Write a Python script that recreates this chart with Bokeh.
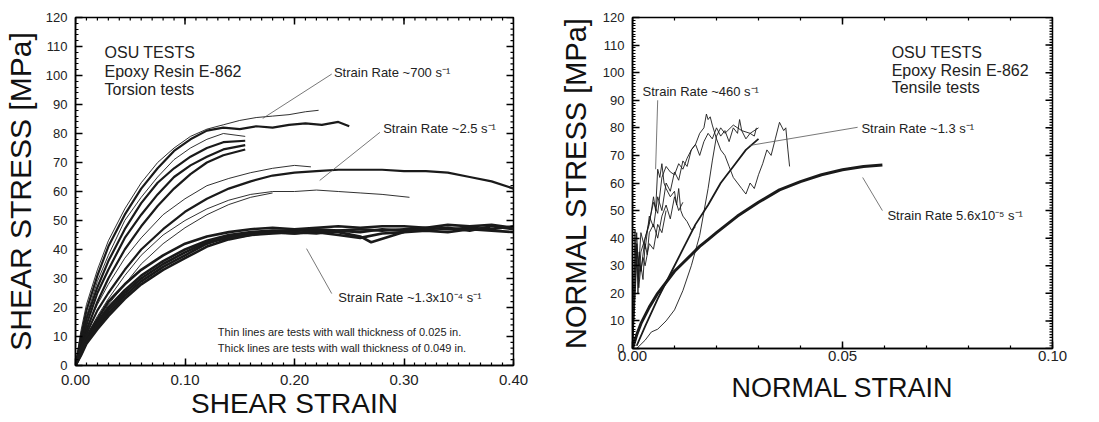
import numpy as np
from bokeh.plotting import figure
from bokeh.layouts import row
from bokeh.models import FixedTicker
from bokeh.core.properties import value
from bokeh.embed import file_html
from bokeh.resources import INLINE

FONT = "Liberation Sans"

# ---------------- Left panel: torsion tests (shear) ----------------
# ~700 1/s group
s700_a_x = [0, 0.005, 0.01, 0.02, 0.03, 0.045, 0.06, 0.075, 0.09, 0.105, 0.12, 0.135, 0.15, 0.165, 0.18, 0.195, 0.21, 0.222]
s700_a_y = [0, 12, 21, 33, 43, 54, 63, 70, 75, 79, 81.5, 83, 84.5, 85.5, 86, 86.5, 87.5, 88]
s700_b_x = [0, 0.005, 0.01, 0.02, 0.03, 0.045, 0.06, 0.075, 0.09, 0.105, 0.12, 0.135, 0.15, 0.165, 0.18, 0.195, 0.21, 0.225, 0.24, 0.25]
s700_b_y = [0, 10, 19, 31, 41, 52, 61, 68, 74, 78, 81, 82, 81.5, 82.5, 82, 83, 83.5, 83, 84, 82.5]
s700_cx = [0, 0.005, 0.01, 0.02, 0.03, 0.045, 0.06, 0.075, 0.09, 0.105, 0.12, 0.135, 0.155]
s700_c_y = [0, 8, 16, 27, 36, 47, 56, 63, 68, 72, 75, 77, 77.5]
s700_d_y = [0, 7, 14, 25, 33, 44, 52, 59, 65, 69, 72, 74.5, 76]
s700_e_y = [0, 9, 17, 29, 38, 50, 58, 65, 71, 75, 78, 80, 79]
s700_f_y = [0, 6, 12, 22, 30, 40, 48, 55, 61, 66, 70, 72.5, 74.5]

# ~2.5 1/s group
s25_g_x = [0, 0.005, 0.01, 0.02, 0.03, 0.045, 0.06, 0.08, 0.10, 0.12, 0.14, 0.16, 0.18, 0.20, 0.22, 0.24, 0.26, 0.28, 0.30, 0.32, 0.34, 0.36, 0.38, 0.40]
s25_g_y = [0, 6, 11, 19, 25, 33, 40, 47, 53, 57.5, 61, 63.5, 65.5, 66.5, 67, 67.5, 67.5, 67.5, 67, 67, 66.5, 65, 63.5, 61]
s25_h_x = [0, 0.005, 0.01, 0.02, 0.03, 0.045, 0.06, 0.08, 0.10, 0.12, 0.14, 0.16, 0.18, 0.20, 0.215]
s25_h_y = [0, 7, 13, 21, 28, 37, 44, 52, 57.5, 62, 64.5, 66.5, 68, 69, 68.5]
s25_i_x = [0, 0.005, 0.01, 0.02, 0.03, 0.045, 0.06, 0.08, 0.10, 0.12, 0.14, 0.16, 0.18, 0.20, 0.22, 0.24, 0.26, 0.28, 0.305]
s25_i_y = [0, 5, 10, 17, 23, 31, 38, 45, 50, 54, 57, 59, 60, 60, 60.5, 60, 59.5, 59, 58]
s25_j_x = [0, 0.005, 0.01, 0.02, 0.03, 0.045, 0.06, 0.08, 0.10, 0.12, 0.14, 0.16, 0.18]
s25_j_y = [0, 4, 9, 15, 21, 28, 35, 42, 47.5, 52, 55.5, 58, 59.5]

# ~1.3e-4 1/s group
slow_x = [0, 0.005, 0.01, 0.02, 0.03, 0.045, 0.06, 0.08, 0.10, 0.12, 0.14, 0.16, 0.18, 0.20, 0.22, 0.24, 0.26, 0.28, 0.30, 0.32, 0.34, 0.36, 0.38, 0.40]
slow_y1 = [0, 5, 9, 15, 20, 26, 31, 36, 40, 43, 45, 46, 46.5, 46.5, 47, 46.5, 47, 46.5, 47, 47.5, 47, 47.5, 47, 48]
slow_y2 = [0, 4, 8, 13, 18, 24, 29, 34, 38, 42, 44.5, 45.5, 46, 45.5, 46, 45, 44, 45.5, 46, 46.5, 46, 47, 46.5, 46]
slow_y3 = [0, 6, 10, 16, 22, 28, 33, 38, 42, 44.5, 46, 47, 47.5, 47, 47.5, 48, 47.5, 48, 48, 47.5, 48.5, 48, 48.5, 47.5]
slow_y5 = [0, 3.5, 7.5, 12.5, 17, 23, 28, 33, 37, 41, 43.5, 45, 45.5, 46, 45.5, 46.5, 46, 47, 46.5, 47, 47.5, 46.5, 48, 47]
slow4_x = [0, 0.005, 0.01, 0.02, 0.03, 0.045, 0.06, 0.08, 0.10, 0.12, 0.14, 0.16, 0.18, 0.20, 0.22, 0.24, 0.26, 0.27, 0.30]
slow4_y = [0, 4.5, 8.5, 14, 19, 25, 30, 35, 39, 42.5, 44, 45, 46, 45.5, 46.5, 46, 44.5, 42.5, 46]

# ---------------- Right panel: tensile tests (normal) ----------------
t_slow_x = [0, 0.001, 0.002, 0.004, 0.006, 0.008, 0.010, 0.012, 0.014, 0.016, 0.018, 0.020, 0.025, 0.030, 0.035, 0.040, 0.045, 0.050, 0.055, 0.0595]
t_slow_y = [0, 5, 9, 15, 20, 24, 28, 31, 34, 37, 39.5, 42, 48, 53, 57.5, 60.5, 63, 64.8, 66, 66.5]
t_mid1_x = [0.001, 0.003, 0.006, 0.009, 0.012, 0.015, 0.018, 0.021, 0.024, 0.027, 0.030]
t_mid1_y = [1, 8, 18, 27, 36, 45, 52, 60, 66, 72, 76]
t_mid2_x = [0.001, 0.003, 0.0045, 0.006, 0.008, 0.010, 0.012, 0.014, 0.016, 0.018, 0.019, 0.020, 0.021, 0.022, 0.024, 0.026, 0.028, 0.030]
t_mid2_y = [0, 3, 6, 7, 10, 14, 21, 30, 41, 58, 68, 77, 80, 78, 81, 79, 78, 80]
t_r1_x = [0, 0.0005, 0.001, 0.0015, 0.002, 0.003, 0.004, 0.005, 0.006, 0.007, 0.008, 0.009, 0.010, 0.011, 0.012, 0.013, 0.014, 0.015, 0.016, 0.017, 0.0176, 0.018, 0.0185, 0.019, 0.020, 0.021, 0.022, 0.023, 0.024, 0.025, 0.026, 0.027, 0.028, 0.029, 0.030, 0.031, 0.032, 0.033, 0.034, 0.035, 0.036, 0.0365, 0.037, 0.0374]
t_r1_y = [0, 22, 38, 30, 42, 36, 48, 44, 55, 50, 60, 57, 64, 61, 68, 66, 72, 74, 78, 80, 85, 83, 84, 81, 76, 72, 70, 66, 62, 60, 58, 56, 60, 58, 63, 67, 72, 70, 76, 82, 79, 80, 72, 66]
t_r2_x = [0, 0.0005, 0.001, 0.002, 0.003, 0.004, 0.005, 0.006, 0.007, 0.008, 0.009, 0.010, 0.011, 0.012, 0.013, 0.014, 0.015, 0.016, 0.017, 0.018, 0.019, 0.020, 0.021, 0.022, 0.023, 0.024, 0.025, 0.0255, 0.026, 0.027, 0.028, 0.029, 0.0295]
t_r2_y = [0, 18, 35, 28, 40, 46, 53, 49, 62, 66, 64, 63, 67, 65, 69, 72, 74, 70, 75, 78, 76, 80, 77, 79, 75, 80, 78, 83, 79, 76, 78, 77, 80]
t_r3_x = [0, 0.0005, 0.001, 0.0015, 0.002, 0.003, 0.004, 0.005, 0.0055, 0.006, 0.0065, 0.007, 0.0075, 0.008, 0.009, 0.010, 0.0105, 0.011, 0.0115, 0.012, 0.013, 0.014, 0.015]
t_r3_y = [0, 30, 42, 25, 35, 40, 45, 55, 50, 65, 62, 67, 60, 58, 55, 57, 52, 58, 50, 48, 46, 43, 44]
t_r4_x = [0, 0.0005, 0.001, 0.0015, 0.002, 0.0025, 0.003, 0.0035, 0.004, 0.005, 0.006, 0.007, 0.008, 0.009, 0.010, 0.011, 0.012]
t_r4_y = [0, 15, 32, 22, 30, 25, 38, 34, 42, 45, 40, 48, 52, 47, 55, 50, 53]
t_r5_x = [0, 0.0003, 0.0006, 0.0008, 0.001, 0.0013, 0.0016, 0.002, 0.0025, 0.003, 0.004, 0.005, 0.006, 0.007, 0.008]
t_r5_y = [0, 25, 43, 30, 38, 20, 35, 28, 33, 30, 38, 36, 45, 42, 50]

# ---------------- Annotation texts ----------------
left_info = ["OSU TESTS", "Epoxy Resin E-862", "Torsion tests"]
right_info = ["OSU TESTS", "Epoxy Resin E-862", "Tensile tests"]
left_rates = ["Strain Rate ~700 s\u207b\u00b9", "Strain Rate ~2.5 s\u207b\u00b9", "Strain Rate ~1.3x10\u207b\u2074 s\u207b\u00b9"]
right_rates = ["Strain Rate ~460 s\u207b\u00b9", "Strain Rate ~1.3 s\u207b\u00b9", "Strain Rate 5.6x10\u207b\u2075 s\u207b\u00b9"]
left_notes = ["Thin lines are tests with wall thickness of 0.025 in.",
              "Thick lines are tests with wall thickness of 0.049 in."]

THIN = 0.9
THICK = 2.2
INK = "#1a1a1a"
MAJ_LEN = 7
MIN_LEN = 3


def mirror_ticks(p, xt, xminor, yt, yminor, xr, yr, fw, fh):
    """Inward ticks on the top and right edges of the frame."""
    y_top = yr[1]
    x_right = xr[1]
    dy_maj = MAJ_LEN / fh * (yr[1] - yr[0])
    dy_min = MIN_LEN / fh * (yr[1] - yr[0])
    dx_maj = MAJ_LEN / fw * (xr[1] - xr[0])
    dx_min = MIN_LEN / fw * (xr[1] - xr[0])
    p.segment(x0=xt, y0=[y_top] * len(xt), x1=xt, y1=[y_top - dy_maj] * len(xt),
              line_color="black", line_width=1.5)
    p.segment(x0=xminor, y0=[y_top] * len(xminor), x1=xminor, y1=[y_top - dy_min] * len(xminor),
              line_color="black", line_width=1.2)
    p.segment(x0=[x_right] * len(yt), y0=yt, x1=[x_right - dx_maj] * len(yt), y1=yt,
              line_color="black", line_width=1.5)
    p.segment(x0=[x_right] * len(yminor), y0=yminor, x1=[x_right - dx_min] * len(yminor), y1=yminor,
              line_color="black", line_width=1.2)


def style_axes(p, xt, xminor, yt, yminor, xfmt_labels, xlab, ylab, xlab_size, ylab_size, xstand, ystand):
    p.xaxis.ticker = FixedTicker(ticks=xt, minor_ticks=xminor)
    p.yaxis.ticker = FixedTicker(ticks=yt, minor_ticks=yminor)
    p.xaxis.major_label_overrides = xfmt_labels
    for ax in (p.xaxis[0], p.yaxis[0]):
        ax.major_tick_in = MAJ_LEN
        ax.major_tick_out = 0
        ax.minor_tick_in = MIN_LEN
        ax.minor_tick_out = 0
        ax.axis_line_width = 1.5
        ax.axis_line_color = "black"
        ax.major_tick_line_width = 1.5
        ax.minor_tick_line_width = 1.2
        ax.major_label_text_font = FONT
        ax.major_label_text_color = "#222222"
        ax.axis_label_text_font = FONT
        ax.axis_label_text_font_style = "normal"
        ax.axis_label_text_color = "#111111"
    p.xaxis.axis_label = xlab
    p.yaxis.axis_label = ylab
    p.xaxis.major_label_text_font_size = "15px"
    p.yaxis.major_label_text_font_size = "13px"
    p.xaxis.axis_label_text_font_size = xlab_size
    p.yaxis.axis_label_text_font_size = ylab_size
    p.xaxis.major_label_standoff = xstand[0]
    p.xaxis.axis_label_standoff = xstand[1]
    p.yaxis.major_label_standoff = ystand[0]
    p.yaxis.axis_label_standoff = ystand[1]
    p.grid.visible = False
    p.outline_line_color = "black"
    p.outline_line_width = 1.5


# ================= Left figure =================
L_XR, L_YR, L_FW, L_FH = (0, 0.40), (0, 120), 438, 348
p1 = figure(frame_width=L_FW, frame_height=L_FH, x_range=L_XR, y_range=L_YR,
            output_backend="svg", toolbar_location=None,
            min_border_left=68, min_border_right=36, min_border_top=17, min_border_bottom=49)
p1.background_fill_color = "white"
p1.border_fill_color = "white"

for xs, ys, w in [
    (s700_a_x, s700_a_y, THIN), (s700_b_x, s700_b_y, THICK),
    (s700_cx, s700_c_y, THICK), (s700_cx, s700_d_y, THICK),
    (s700_cx, s700_e_y, THIN), (s700_cx, s700_f_y, THICK),
    (s25_g_x, s25_g_y, THICK), (s25_h_x, s25_h_y, THIN),
    (s25_i_x, s25_i_y, THIN), (s25_j_x, s25_j_y, THIN),
    (slow_x, slow_y1, THICK + 0.4), (slow_x, slow_y2, THICK + 0.4), (slow_x, slow_y3, THICK + 0.4),
    (slow_x, slow_y5, THICK + 0.4), (slow4_x, slow4_y, THICK + 0.4),
]:
    p1.line(xs, ys, line_width=w, line_color=INK)

# leader lines (left)
p1.segment(x0=[0.171, 0.223, 0.211], y0=[85.2, 63.8, 40.3],
           x1=[0.234, 0.278, 0.234], y1=[100.5, 80.4, 24.8],
           line_color="#555555", line_width=0.8)
p1.text(x=[0.236, 0.281, 0.240], y=[101, 81.7, 23.5], text=left_rates,
        text_font=value(FONT), text_font_size="13px", text_baseline="middle", text_color="#222222")
p1.text(x=[0.0265] * 3, y=[108, 101.4, 95.2], text=left_info,
        text_font=value(FONT), text_font_size="16px", text_baseline="middle", text_color="#222222")
p1.text(x=[0.130, 0.130], y=[11.4, 6.2], text=left_notes,
        text_font=value(FONT), text_font_size="11px", text_baseline="middle", text_color="#222222")

L_XT = [0, 0.1, 0.2, 0.3, 0.4]
L_XMIN = list(np.round(np.arange(0, 0.401, 0.01), 3))
L_YT = list(range(0, 121, 10))
L_YMIN = list(range(0, 121, 2))
style_axes(p1, L_XT, L_XMIN, L_YT, L_YMIN,
           {0: "0.00", 0.1: "0.10", 0.2: "0.20", 0.3: "0.30", 0.4: "0.40"},
           "SHEAR STRAIN", "SHEAR STRESS [MPa]", "28px", "30px", (9, 0), (8, 6))
mirror_ticks(p1, L_XT, L_XMIN, L_YT, L_YMIN, L_XR, L_YR, L_FW, L_FH)

# ================= Right figure =================
R_XR, R_YR, R_FW, R_FH = (0, 0.10), (0, 120), 420, 331
p2 = figure(frame_width=R_FW, frame_height=R_FH, x_range=R_XR, y_range=R_YR,
            output_backend="svg", toolbar_location=None,
            min_border_left=83, min_border_right=38, min_border_top=17, min_border_bottom=66)
p2.background_fill_color = "white"
p2.border_fill_color = "white"

for xs, ys, w in [
    (t_slow_x, t_slow_y, THICK + 0.8), (t_mid1_x, t_mid1_y, 1.8), (t_mid2_x, t_mid2_y, THIN),
    (t_r1_x, t_r1_y, THIN), (t_r2_x, t_r2_y, THIN), (t_r3_x, t_r3_y, THIN),
    (t_r4_x, t_r4_y, THIN), (t_r5_x, t_r5_y, THIN),
]:
    p2.line(xs, ys, line_width=w, line_color=INK)

p2.segment(x0=[0.0055, 0.0279, 0.0548], y0=[65, 73.6, 62],
           x1=[0.006, 0.0536, 0.0595], y1=[90, 80.2, 50],
           line_color="#555555", line_width=0.8)
p2.text(x=[0.0024, 0.0545, 0.0607], y=[93.2, 79.7, 48.2], text=right_rates,
        text_font=value(FONT), text_font_size="13px", text_baseline="middle", text_color="#222222")
p2.text(x=[0.0617] * 3, y=[107.3, 100.8, 94.6], text=right_info,
        text_font=value(FONT), text_font_size="16px", text_baseline="middle", text_color="#222222")

R_XT = [0, 0.05, 0.10]
R_XMIN = list(np.round(np.arange(0, 0.1001, 0.01), 3))
R_YT = list(range(0, 121, 10))
R_YMIN = list(range(0, 121, 1))
style_axes(p2, R_XT, R_XMIN, R_YT, R_YMIN,
           {0: "0.00", 0.05: "0.05", 0.1: "0.10"},
           "NORMAL STRAIN", "NORMAL STRESS [MPa]", "27px", "29px", (2, 9), (8, 8))
mirror_ticks(p2, R_XT, R_XMIN, R_YT, R_YMIN, R_XR, R_YR, R_FW, R_FH)

layout = row(p1, p2)
open("out.html", "w").write(file_html(layout, INLINE))
